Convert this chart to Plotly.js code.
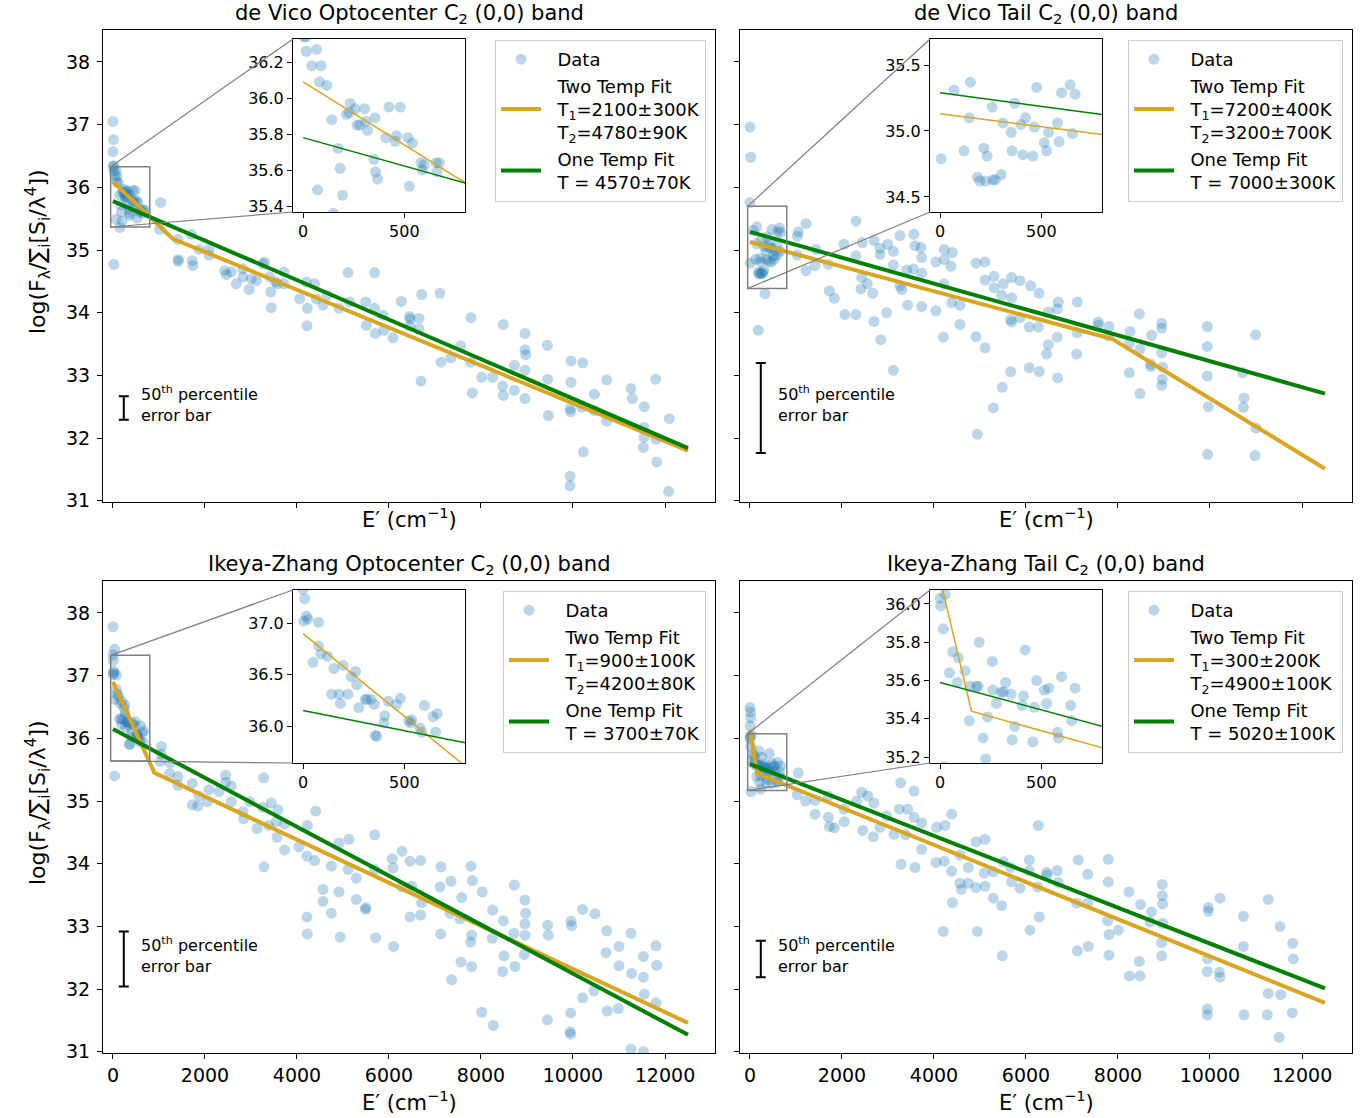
<!DOCTYPE html>
<html><head><meta charset="utf-8">
<script src="https://cdn.plot.ly/plotly-3.0.1.min.js"></script>
<style>html,body{margin:0;padding:0;background:#fff}#plot{width:1372px;height:1118px}</style>
</head><body><div id="plot"></div>
<script>
// ---------------- DATA ----------------
const panelTitles = [
  'de Vico Optocenter C<sub>2</sub> (0,0) band',
  'de Vico Tail C<sub>2</sub> (0,0) band',
  'Ikeya-Zhang Optocenter C<sub>2</sub> (0,0) band',
  'Ikeya-Zhang Tail C<sub>2</sub> (0,0) band'
];
const dataLabel = 'Data';
const twoTempLabels = [
  ['Two Temp Fit', 'T<sub>1</sub>=2100±300K', 'T<sub>2</sub>=4780±90K'],
  ['Two Temp Fit', 'T<sub>1</sub>=7200±400K', 'T<sub>2</sub>=3200±700K'],
  ['Two Temp Fit', 'T<sub>1</sub>=900±100K', 'T<sub>2</sub>=4200±80K'],
  ['Two Temp Fit', 'T<sub>1</sub>=300±200K', 'T<sub>2</sub>=4900±100K']
];
const oneTempLabels = [
  ['One Temp Fit', 'T = 4570±70K'],
  ['One Temp Fit', 'T = 7000±300K'],
  ['One Temp Fit', 'T = 3700±70K'],
  ['One Temp Fit', 'T = 5020±100K']
];

// [E' (cm^-1), log(F/sum)] pairs
const devicoOptoPoints = [
[0,37.05],[10,36.76],[0,36.57],[5,36.34],[20,34.77],
[13,36.34],[16,36.26],[66,36.27],[43,36.18],[89,36.18],[81,36.09],[117,36.07],[142,35.88],[173,35.72],[183,35.61],[71,35.49],[195,35.46],[150,35.36],[233,35.97],[215,35.91],[228,35.92],[257,35.94],[304,35.94],[266,35.85],[280,35.85],[310,35.87],[318,35.82],[355,35.89],[424,35.95],[480,35.95],[409,35.78],[462,35.79],[455,35.76],[518,35.78],[540,35.75],[350,35.66],[358,35.59],[368,35.55],[525,35.51],[582,35.64],[599,35.63],[589,35.60],[657,35.64],[673,35.64],[662,35.59],
[1036,35.76],[1014,35.33],[1413,35.17],[1703,35.25],[1420,34.85],[1420,34.82],[1725,34.83],[1739,34.75],[1870,35.01],[2087,35.01],[2087,34.92],[2428,34.67],[2464,34.61],[2573,34.65],[2681,34.46],[2826,34.70],[2826,34.57],[2957,34.37],[3008,34.54],[3116,34.51],[3261,34.78],[3297,34.81],[3406,34.57],[3428,34.33],[3442,34.08],[3536,34.49],[3572,34.46],[3717,34.65],[3717,34.46],[4058,34.22],[4203,34.49],[4225,34.07],[4217,33.79],[4384,34.46],[4420,34.22],[4565,34.12],[4652,34.28],[4913,34.07],[5109,34.64],[5145,34.17],[5493,34.17],[5507,33.80],[5688,34.64],[5688,34.07],[5703,33.67],[5870,33.96],[5891,33.72],[6087,33.60],[6268,34.18],[6449,33.94],
[6710,34.29],[7109,34.31],[6456,33.90],[6652,33.91],[6456,33.79],[6652,33.74],[6696,32.91],[7130,33.21],[7348,33.28],[7558,33.47],[7782,33.92],[7775,33.21],[7812,32.72],[8014,32.97],[8254,32.97],[8486,33.81],[8471,32.83],[8486,32.68],[8725,33.16],[8725,32.76],[8957,33.67],[8957,33.41],[8971,33.33],[8957,33.08],[8957,32.63],[9443,33.48],[9450,32.94],[9464,32.36],[9957,33.23],[9957,32.89],[9936,32.47],[9950,32.42],[10210,33.20],[10188,32.49],[10225,31.78],[9936,31.39],[9936,31.24],[10464,32.70],[10464,32.44],[10732,32.93],[10732,32.27],[11261,32.79],[11290,32.63],[11551,32.50],[11797,32.94],[11543,32.17],[11543,32.01],[11529,31.85],[11804,31.98],[11819,31.62],[12094,32.31],[12080,31.15]
];
const devicoTailPoints = [
[0,36.96],[15,36.48],[0,35.76],[326,34.30],[181,33.72],
[5,34.79],[69,35.31],[150,35.37],[119,34.85],[144,35.10],[216,34.87],[232,34.81],[185,34.65],[196,34.62],[225,34.62],[261,34.63],[273,34.63],[302,34.67],[257,35.18],[310,35.06],[351,34.99],[368,35.21],[356,34.85],[400,35.05],[422,35.10],[409,34.82],[458,34.81],[466,35.03],[477,35.33],[515,34.91],[526,34.85],[536,34.99],[580,35.06],[588,34.92],[600,35.29],[642,35.35],[667,35.28],[654,34.98],
[1051,35.29],[1217,35.42],[1029,35.22],[1029,34.92],[1217,34.67],[1413,34.75],[1435,35.01],[1703,34.77],[1725,34.35],[1833,34.23],[2043,35.09],[2304,35.46],[2304,34.91],[2065,33.97],[2304,33.97],[2442,35.12],[2428,34.56],[2413,34.38],[2551,34.46],[2696,35.15],[2826,35.03],[2826,34.93],[2666,34.31],[2696,33.86],[2841,33.57],[2971,34.00],[2993,35.09],[3116,34.98],[3116,34.76],[3261,35.23],[3261,34.43],[3297,34.37],[3406,34.68],[3428,34.12],[3551,34.70],[3565,35.25],[3587,35.07],[3717,35.04],[3732,34.88],[3732,34.63],[3732,34.10],[3116,33.08],[4043,34.81],[4043,34.03],[4225,35.01],[4225,34.85],[4398,34.96],[4203,33.61],[4217,34.46],[4369,34.74],[4384,34.16],[4565,34.12],[4565,33.81],[4913,34.79],[5109,34.81],[5109,34.52],[4913,33.62],[5109,33.44],[5304,34.58],[5304,34.40],[5507,34.46],[5471,34.28],[5688,34.56],[5688,34.24],[5870,34.51],[6101,34.43],[6283,34.31],[5667,33.89],[5688,33.85],[5870,33.92],[6072,33.77],[6268,33.77],[5667,33.06],[5486,32.81],[5290,32.48],[4942,32.06],[6072,33.12],[6290,33.06],[6486,34.01],[6486,33.49],[6449,33.34],
[6703,34.17],[6681,34.06],[7116,34.17],[6681,33.61],[6688,32.96],[7116,33.68],[7101,33.34],[7572,33.85],[7572,33.80],[7804,33.78],[7790,33.63],[8261,33.70],[8464,33.98],[8246,33.51],[8478,33.42],[8246,33.04],[8478,32.71],[8732,33.64],[8710,33.18],[8717,33.14],[8949,33.83],[8949,33.75],[8949,33.36],[8971,33.13],[8964,32.94],[8949,32.84],[9942,33.78],[9942,33.46],[9942,32.99],[9964,32.50],[9949,31.74],[10710,33.04],[10739,32.64],[10725,32.49],[10993,33.65],[11000,32.16],[10978,31.72]
];
const ikeyaOptoPoints = [
[0,37.78],[36,37.42],[36,35.40],
[0,37.33],[8,37.24],[3,37.02],[16,37.07],[23,37.04],[76,37.01],[49,36.62],[76,36.78],[87,36.70],[120,36.68],[152,36.56],[197,36.59],[141,36.31],[178,36.31],[184,36.22],[222,36.31],[238,36.48],[259,36.53],[265,36.40],[275,36.18],[307,36.26],[315,36.26],[335,36.26],[351,36.21],[356,35.91],[364,35.90],[403,36.10],[400,36.03],[421,36.24],[461,36.21],[481,36.27],[521,36.05],[532,36.03],[537,36.06],[578,35.98],[586,35.94],[599,36.20],[642,36.09],[663,36.12],[655,35.94],
[1051,35.87],[1051,35.75],[1029,35.63],[1232,35.61],[1232,35.44],[1413,35.39],[1413,35.25],[1725,35.28],[1725,34.94],[1848,34.92],[1870,35.08],[2087,35.18],[2051,34.99],[2304,35.15],[2449,35.41],[2449,35.30],[2573,35.24],[2573,34.99],[2826,34.83],[2841,34.72],[2971,34.99],[3130,34.56],[3275,35.37],[3283,33.95],[3261,34.90],[3442,34.97],[3384,34.61],[3587,34.86],[3565,34.42],[3551,34.67],[3732,34.63],[3732,34.22],[4043,34.27],[4225,34.61],[4217,34.12],[4406,34.84],[4384,34.05],[4217,33.15],[4225,32.88],[4565,33.59],[4565,33.40],[4747,33.21],[4747,33.96],[4913,34.33],[4913,33.55],[4942,32.83],[5130,34.39],[5290,33.77],[5290,33.43],[5109,33.91],[5493,33.30],[5493,33.27],[5688,34.46],[5688,33.91],[5710,32.82],[6072,34.08],[6087,33.93],[6101,32.68],[6283,34.20],[6283,33.63],[6457,34.04],[6457,33.15],
[6688,34.05],[6493,33.64],[6710,33.38],[6688,33.18],[7130,33.95],[7109,33.63],[7348,33.72],[7580,33.46],[7326,33.21],[7123,32.88],[7783,33.96],[7812,33.73],[8029,33.55],[7543,33.12],[7797,32.86],[7775,32.75],[7565,32.43],[7797,32.36],[7362,32.15],[8254,33.26],[8486,33.09],[8246,32.81],[8500,32.53],[8471,32.28],[8725,33.66],[8718,32.89],[8739,32.36],[8957,33.42],[8971,33.21],[8957,33.04],[8957,32.86],[8942,32.55],[8015,31.63],[8268,31.42],[9449,33.02],[9464,32.86],[9442,31.51],[9957,33.08],[9971,33.01],[10210,33.27],[10478,33.20],[10210,31.86],[10456,31.97],[9949,31.62],[9935,31.32],[9949,31.28],[10732,32.93],[10717,32.58],[11000,32.68],[11000,32.37],[11261,32.89],[11275,32.25],[11529,32.52],[11529,32.19],[11551,31.92],[11804,32.69],[11819,32.38],[11804,31.78],[10746,31.65],[10986,31.69],[11261,31.04],[11529,31.00]
];
const ikeyaTailPoints = [
[0,36.49],[10,36.42],[15,36.33],[0,36.20],[22,35.15],
[0,36.03],[25,36.05],[3,35.99],[16,35.87],[62,35.75],[90,35.72],[46,35.64],[85,35.59],[123,35.65],[193,35.80],[258,35.70],[147,35.57],[180,35.57],[188,35.57],[261,35.55],[278,35.48],[324,35.59],[302,35.54],[314,35.54],[351,35.53],[420,35.76],[412,35.52],[405,35.47],[477,35.60],[466,35.46],[515,35.55],[536,35.56],[526,35.48],[600,35.62],[667,35.56],[645,35.47],[650,35.39],[144,35.39],[234,35.41],[368,35.36],[212,35.30],[356,35.29],[458,35.28],[580,35.33],[585,35.30],[225,35.19],
[1051,35.45],[1029,35.10],[1210,35.00],[1413,35.01],[1413,34.79],[1703,35.08],[1703,34.74],[1725,34.59],[1833,34.57],[2043,34.87],[2051,34.67],[2319,35.00],[2428,35.14],[2558,35.08],[2449,34.53],[2696,34.97],[2681,34.43],[2826,34.58],[2971,34.76],[3130,34.47],[3246,34.87],[3275,35.29],[3428,34.87],[3565,35.16],[3565,34.74],[3384,34.46],[3732,34.65],[3732,34.23],[3283,33.99],[3587,33.94],[4058,34.58],[4043,34.02],[4239,34.61],[4225,34.04],[4384,34.79],[4384,33.88],[4398,33.38],[4565,34.14],[4565,33.69],[4594,33.59],[4747,33.94],[4747,33.69],[4913,34.35],[4913,33.62],[5109,34.39],[5094,33.85],[5109,33.64],[5290,33.87],[5290,33.45],[5471,33.33],[5507,34.03],[5667,33.94],[5688,33.71],[5870,33.61],[6072,34.06],[6072,33.89],[6268,34.61],[6254,33.63],[6290,33.15],[6087,32.94],[4203,32.92],[4942,32.92],[5486,32.53],[6449,33.86],
[6463,33.82],[6681,33.89],[6703,33.70],[7138,34.06],[7341,33.83],[7101,33.37],[7341,33.37],[7116,32.61],[7355,32.68],[7790,34.07],[7790,33.71],[7775,33.09],[7804,32.87],[7804,32.54],[8007,32.94],[8239,33.55],[8493,33.35],[8732,33.23],[8696,33.07],[8464,32.44],[8246,32.21],[8478,32.21],[8964,33.67],[8964,33.49],[8971,33.36],[8971,33.05],[8949,32.74],[8949,32.53],[9964,33.30],[9964,33.24],[10217,33.45],[9949,32.48],[9942,32.28],[10203,32.27],[10217,32.19],[9942,31.68],[9942,31.59],[10725,33.16],[10725,32.68],[10739,31.59],[11268,33.43],[11522,33.00],[11268,31.93],[11536,31.91],[11246,31.59],[11507,31.23],[11797,32.73],[11812,32.48],[11790,31.62]
];

// fit line vertices
const twoTempE = [[0,1300,12500],[0,7880,12500],[0,900,12500],[0,155,12500]];
const twoTempLog = [[36.09,35.18,31.80],[35.13,33.58,31.51],[36.90,35.45,31.46],[36.13,35.44,31.78]];
const oneTempE = [[0,12500],[0,12500],[0,12500],[0,12500]];
const oneTempLog = [[35.78,31.84],[35.29,32.71],[36.15,31.27],[35.59,32.01]];

// 50th percentile error bar half-heights and position
const errHalf = [0.186, 0.717, 0.438, 0.292];
const errE = 235, errLog = 32.48;

// inset zoom windows
const insetE = [-50, 800];
const insetLog = [[35.367,36.328],[34.386,35.697],[35.640,37.324],[35.169,36.073]];
const insetDtick = [0.2, 0.5, 0.5, 0.2];

// main axis ranges
const mainE = [-217, 13087];
const mainLog = [30.98, 38.51];

// ---------------- LAYOUT ----------------
const W = 1372, H = 1118;
const FONT = 'DejaVu Sans, Liberation Sans, sans-serif';
const pts = [devicoOptoPoints, devicoTailPoints, ikeyaOptoPoints, ikeyaTailPoints];
const mainBox = [[103,30,715,502],[740,30,1352,502],[103,581,715,1053],[740,581,1352,1053]];
const insetBox = [[293,39,465,212],[930,39,1102,212],[293,590,465,763],[930,590,1102,763]];
const legendBox = [[706,40],[1343,40],[706,591],[1343,591]];
const domX = b => [b[0]/W, b[2]/W];
const domY = b => [1 - b[3]/H, 1 - b[1]/H];
const pad = '\u00a0\u00a0';
const legText = lines => lines.map(l => pad + l).join('<br>');

const traces = [];
const layout = {
  width: W, height: H, autosize: false,
  margin: {l:0, r:0, t:0, b:0},
  paper_bgcolor: '#fff', plot_bgcolor: '#fff',
  font: {family: FONT, color: '#000', size: 18},
  showlegend: true,
  shapes: [], annotations: []
};

const GREEN = '#008000', ORANGE = '#daa520', BLUE = '#1f77b4';

for (let p = 0; p < 4; p++) {
  const mi = p + 1, ii = p + 5;
  const mx = 'x' + (mi === 1 ? '' : mi), my = 'y' + (mi === 1 ? '' : mi);
  const ix = 'x' + ii, iy = 'y' + ii;
  const leg = 'legend' + (p === 0 ? '' : (p + 1));
  const xs = pts[p].map(d => d[0]), ys = pts[p].map(d => d[1]);

  traces.push({type:'scatter', mode:'markers', x: xs, y: ys, xaxis: mx, yaxis: my,
    name: legText([dataLabel]), legend: leg, marker: {color: BLUE, size: 11, opacity: 0.3}, cliponaxis: true});
  traces.push({type:'scatter', mode:'lines', x: twoTempE[p], y: twoTempLog[p], xaxis: mx, yaxis: my,
    name: legText(twoTempLabels[p]), legend: leg, line: {color: ORANGE, width: 4}});
  traces.push({type:'scatter', mode:'lines', x: oneTempE[p], y: oneTempLog[p], xaxis: mx, yaxis: my,
    name: legText(oneTempLabels[p]), legend: leg, line: {color: GREEN, width: 4}});
  traces.push({type:'scatter', mode:'markers', x:[errE], y:[errLog], xaxis: mx, yaxis: my, showlegend:false,
    marker:{size:1, color:'rgba(0,0,0,0)'},
    error_y:{type:'data', array:[errHalf[p]], visible:true, color:'#000', thickness:2, width:5}});
  traces.push({type:'scatter', mode:'markers', x: xs, y: ys, xaxis: ix, yaxis: iy, showlegend:false,
    marker: {color: BLUE, size: 11, opacity: 0.3}});
  traces.push({type:'scatter', mode:'lines', x: twoTempE[p], y: twoTempLog[p], xaxis: ix, yaxis: iy, showlegend:false,
    line: {color: ORANGE, width: 1.5}});
  traces.push({type:'scatter', mode:'lines', x: oneTempE[p], y: oneTempLog[p], xaxis: ix, yaxis: iy, showlegend:false,
    line: {color: GREEN, width: 1.5}});

  const axBase = {showline:true, mirror:true, linecolor:'#000', linewidth:1, ticks:'outside', ticklen:5,
    tickwidth:1, tickcolor:'#000', showgrid:false, zeroline:false};
  layout['xaxis' + (mi === 1 ? '' : mi)] = Object.assign({}, axBase, {
    domain: domX(mainBox[p]), range: mainE, tick0: 0, dtick: 2000, tickformat: 'd', anchor: my,
    showticklabels: p >= 2, tickfont: {size: 19, family: FONT}});
  layout['yaxis' + (mi === 1 ? '' : mi)] = Object.assign({}, axBase, {
    domain: domY(mainBox[p]), range: mainLog, tick0: 31, dtick: 1, anchor: mx,
    showticklabels: p % 2 === 0, tickfont: {size: 19, family: FONT}, ticklabelstandoff: 3});
  layout['xaxis' + ii] = Object.assign({}, axBase, {
    domain: domX(insetBox[p]), range: insetE, tick0: 0, dtick: 500, anchor: iy,
    tickfont: {size: 16, family: FONT}});
  layout['yaxis' + ii] = Object.assign({}, axBase, {
    domain: domY(insetBox[p]), range: insetLog[p], tick0: 0, dtick: insetDtick[p], tickformat: '.1f', anchor: ix,
    tickfont: {size: 16, family: FONT}});

  layout[leg] = {x: legendBox[p][0]/W, y: 1 - legendBox[p][1]/H, xanchor:'right', yanchor:'top',
    xref:'paper', yref:'paper', bgcolor:'rgba(255,255,255,0.8)', bordercolor:'#cccccc', borderwidth:1,
    font:{size:18, family: FONT}, itemwidth: 40, valign:'middle', tracegroupgap: 0};

  const rng = insetLog[p];
  layout.shapes.push({type:'rect', xref: mx, yref: my, x0: insetE[0], x1: insetE[1], y0: rng[0], y1: rng[1],
    line:{color:'#808080', width:1.5}, layer:'above'});
  const dx = domX(mainBox[p]), dy = domY(mainBox[p]);
  const px = v => dx[0] + (v - mainE[0]) / (mainE[1] - mainE[0]) * (dx[1] - dx[0]);
  const py = v => dy[0] + (v - mainLog[0]) / (mainLog[1] - mainLog[0]) * (dy[1] - dy[0]);
  const ibx = domX(insetBox[p]), iby = domY(insetBox[p]);
  layout.shapes.push({type:'line', xref:'paper', yref:'paper', x0: px(insetE[0]), y0: py(rng[1]), x1: ibx[0], y1: iby[1],
    line:{color:'#808080', width:1.2}, layer:'above'});
  layout.shapes.push({type:'line', xref:'paper', yref:'paper', x0: px(insetE[0]), y0: py(rng[0]), x1: ibx[0], y1: iby[0],
    line:{color:'#808080', width:1.2}, layer:'above'});

  const cx = (mainBox[p][0] + mainBox[p][2]) / 2 / W;
  layout.annotations.push({text: panelTitles[p], xref:'paper', yref:'paper', x: cx, y: 1 - (mainBox[p][1] - 16)/H,
    xanchor:'center', yanchor:'middle', showarrow:false, font:{size:21, family: FONT}});
  layout.annotations.push({text: 'E′ (cm<sup>−1</sup>)', xref:'paper', yref:'paper', x: cx,
    y: 1 - (mainBox[p][3] + (p >= 2 ? 48 : 16))/H, xanchor:'center', yanchor:'middle', showarrow:false,
    font:{size:21, family: FONT}});
  if (p % 2 === 0) {
    layout.annotations.push({text: 'log(F<sub>λ</sub>/∑<sub>i</sub>[S<sub>i</sub>/λ<sup>4</sup>])', xref:'paper', yref:'paper',
      x: 38/W, y: 1 - ((mainBox[p][1] + mainBox[p][3])/2 - 14)/H, textangle: -90, xanchor:'center', yanchor:'middle',
      showarrow:false, font:{size:22, family: FONT}});
  }
  layout.annotations.push({text: '50<sup>th</sup> percentile<br>error bar', xref: mx, yref: my, x: 570, y: 32.54,
    xanchor:'left', yanchor:'middle', align:'left', showarrow:false, font:{size:16, family: FONT}});
}

Plotly.newPlot('plot', traces, layout, {staticPlot: true, displayModeBar: false});
</script></body></html>
